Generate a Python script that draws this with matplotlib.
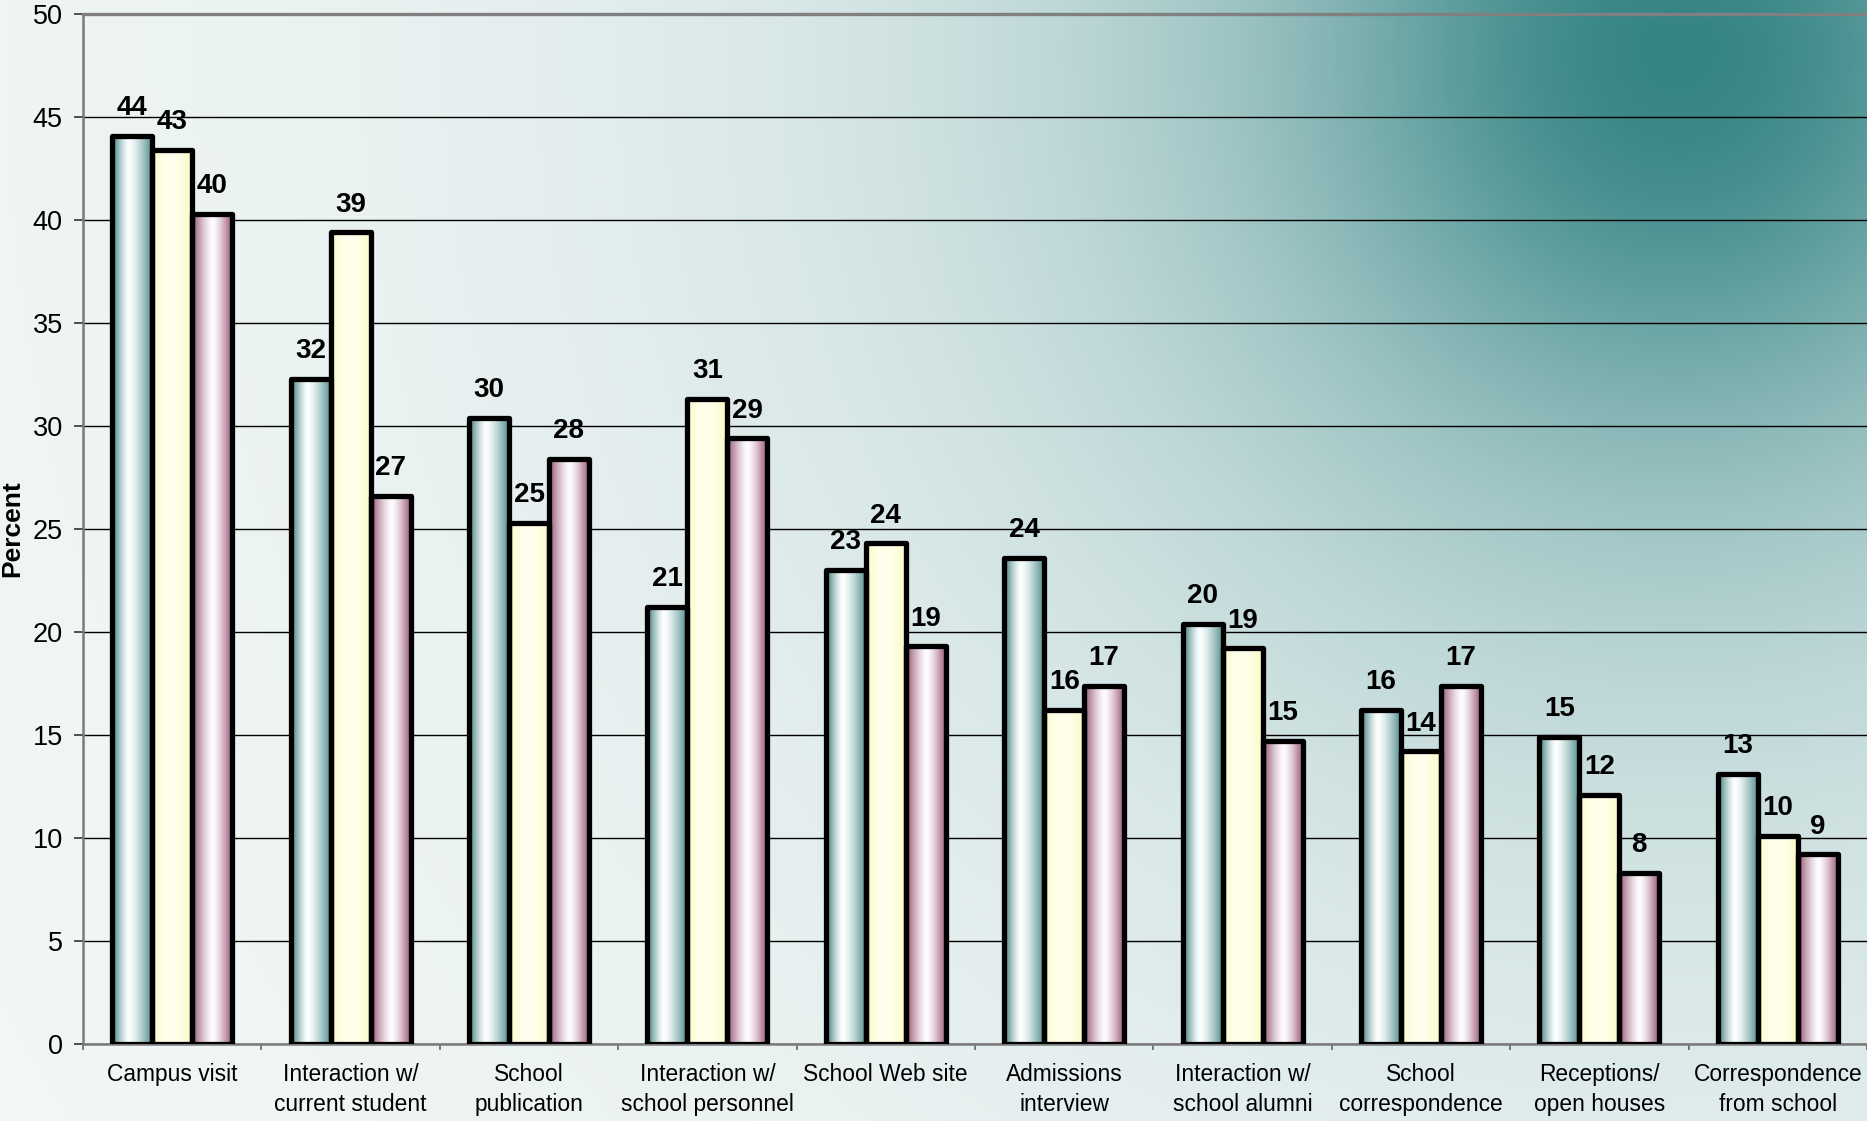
import matplotlib
matplotlib.use("Agg")
import matplotlib.pyplot as plt
import numpy as np

plt.rcParams['font.family'] = ['Liberation Sans', 'DejaVu Sans']

# data
categories = ["Campus visit", "Interaction w/\ncurrent student", "School\npublication",
              "Interaction w/\nschool personnel", "School Web site", "Admissions\ninterview",
              "Interaction w/\nschool alumni", "School\ncorrespondence", "Receptions/\nopen houses",
              "Correspondence\nfrom school"]
series_1 = [44.1, 32.3, 30.4, 21.2, 23.0, 23.6, 20.4, 16.2, 14.9, 13.1]
series_2 = [43.4, 39.4, 25.3, 31.3, 24.3, 16.2, 19.2, 14.2, 12.1, 10.1]
series_3 = [40.3, 26.6, 28.4, 29.4, 19.3, 17.4, 14.7, 17.4, 8.3, 9.2]
yticks = list(range(0, 55, 5))

W, H = 1867, 1121
fig = plt.figure(figsize=(W / 100, H / 100), dpi=100)

# background: teal glow from the top right fading to white
bg = fig.add_axes([0, 0, 1, 1], zorder=0)
gx, gy = np.meshgrid(np.linspace(0, W, 480), np.linspace(0, H, 300))
dist = np.sqrt((gx - 1680) ** 2 + ((gy - 50) * 0.97) ** 2)
w = 1 / (1 + (dist / 420) ** 2.14)
light = np.array([0.975, 0.982, 0.982])
teal = np.array([0.21, 0.52, 0.52])
img = light * (1 - w[..., None]) + teal * w[..., None]
bg.imshow(img, extent=[0, W, H, 0], aspect='auto', interpolation='bilinear')
bg.set_xlim(0, W)
bg.set_ylim(H, 0)
bg.axis('off')

ax = fig.add_axes([83 / W, 1 - 1044 / H, 1 - 83 / W, (1044 - 14) / H], zorder=1)
ax.set_facecolor('none')


def grad(edge_l, edge_r, mid, center, p=1.4):
    t = np.linspace(0, 1, 64)
    k = np.where(t < center, (center - t) / center, (t - center) / (1 - center)) ** p
    edge = np.where((t < center)[:, None], np.array(edge_l)[None, :], np.array(edge_r)[None, :])
    row = np.array(mid)[None, :] * (1 - k[:, None]) + edge * k[:, None]
    return row[None, :, :]


fills = [
    grad((0.22, 0.47, 0.47), (0.33, 0.56, 0.56), (0.99, 1.0, 1.0), 0.42),
    grad((0.98, 0.98, 0.76), (0.98, 0.98, 0.76), (1.0, 1.0, 0.93), 0.45, 2.0),
    grad((0.58, 0.32, 0.45), (0.60, 0.34, 0.47), (1.0, 0.99, 1.0), 0.52),
]

x = np.arange(len(categories))
bw = 0.224
for i, vals in enumerate([series_1, series_2, series_3]):
    bars = ax.bar(x + (i - 1) * bw, vals, bw, facecolor='none', edgecolor='black',
                  linewidth=3.8, zorder=4, joinstyle='round')
    for b, v in zip(bars, vals):
        ax.imshow(fills[i], extent=[b.get_x(), b.get_x() + b.get_width(), 0, b.get_height()],
                  aspect='auto', interpolation='bilinear', zorder=3)
        ax.annotate(f"{v:.0f}", (b.get_x() + b.get_width() / 2, v), xytext=(0, 15),
                    textcoords='offset points', ha='center', va='baseline',
                    fontsize=20, fontweight='bold', zorder=5)

ax.set_xlim(-0.5, len(categories) - 0.5)
ax.set_ylim(0, 50)
ax.set_yticks(yticks)
ax.tick_params(axis='y', labelsize=19.5, length=6.5, width=1.2, pad=8, color='#333333')
ax.set_xticks(x)
ax.set_xticklabels(categories, fontsize=16.4, linespacing=1.38)
ax.tick_params(axis='x', length=0, pad=14)
ax.set_xticks(np.arange(len(categories) + 1) - 0.5, minor=True)
ax.tick_params(axis='x', which='minor', length=4.5, width=1.2, color='#666666')
ax.yaxis.grid(True, color='black', linewidth=1.0, zorder=1)
ax.set_axisbelow(True)
for s in ['left', 'bottom']:
    ax.spines[s].set_color('#7a7a7a')
    ax.spines[s].set_linewidth(1.8)
ax.spines['top'].set_color('#808080')
ax.spines['top'].set_linewidth(2.4)
ax.spines['right'].set_visible(False)

fig.text(12.5 / W, 1 - 529 / H, "Percent", rotation=90, ha='center', va='center',
         fontsize=19, fontweight='bold')

fig.savefig("out.png", dpi=100)
